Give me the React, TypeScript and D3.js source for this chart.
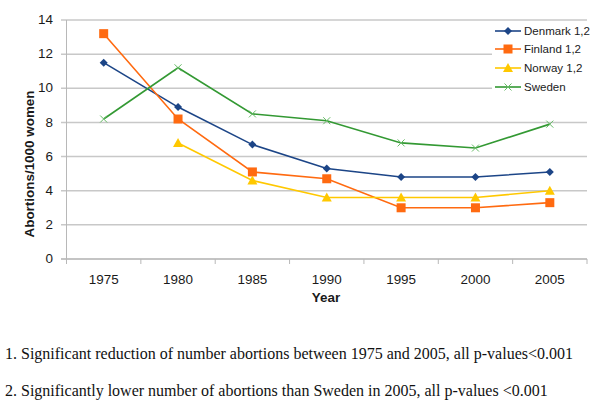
import React from "react";
import * as d3 from "d3";

const years = ["1975", "1980", "1985", "1990", "1995", "2000", "2005"];
const denmark = [11.5, 8.9, 6.7, 5.3, 4.8, 4.8, 5.1];
const finland = [13.2, 8.2, 5.1, 4.7, 3.0, 3.0, 3.3];
const norway: (number | null)[] = [null, 6.8, 4.6, 3.6, 3.6, 3.6, 4.0];
const sweden = [8.2, 11.2, 8.5, 8.1, 6.8, 6.5, 7.9];
const yTicks = [0, 2, 4, 6, 8, 10, 12, 14];
const seriesNames = ["Denmark 1,2", "Finland 1,2", "Norway 1,2", "Sweden"];
const footnotes = [
  "1. Significant reduction of number abortions between 1975 and 2005, all p-values<0.001",
  "2. Significantly lower number of abortions than Sweden in 2005, all p-values <0.001",
];

const colors = ["#1c4587", "#ff6a10", "#ffc800", "#339933"];
const markers = ["diamond", "square", "triangle", "x"];
const SANS = "Liberation Sans, Arial";

function Marker({ type, x, y, color }: { type: string; x: number; y: number; color: string }) {
  if (type === "diamond") {
    const s = 4;
    return <path d={`M${x},${y - s}L${x + s},${y}L${x},${y + s}L${x - s},${y}Z`} fill={color} />;
  }
  if (type === "square") {
    const s = 4.5;
    return <rect x={x - s} y={y - s} width={2 * s} height={2 * s} fill={color} />;
  }
  if (type === "triangle") {
    const s = 5;
    return <path d={`M${x},${y - s}L${x + s},${y + s * 0.8}L${x - s},${y + s * 0.8}Z`} fill={color} />;
  }
  const s = 3.5;
  return (
    <path
      d={`M${x - s},${y - s}L${x + s},${y + s}M${x - s},${y + s}L${x + s},${y - s}`}
      stroke="#66bb66"
      strokeWidth={1}
      fill="none"
    />
  );
}

function STxt({
  x, y, anchor = "start", size, sx = 1.12, bold = false, rotate = 0, children,
}: {
  x: number; y: number; anchor?: string; size: number; sx?: number; bold?: boolean; rotate?: number; children: React.ReactNode;
}) {
  return (
    <g transform={`translate(${x},${y}) rotate(${rotate}) scale(${sx},1)`}>
      <text
        dy="0.35em"
        textAnchor={anchor as any}
        fontFamily={SANS}
        fontSize={size}
        fontWeight={bold ? "bold" : "normal"}
        fill="#1a1a1a"
      >
        {children}
      </text>
    </g>
  );
}

export default function App() {
  const W = 600, H = 410;
  const left = 66.5, right = 587, top = 20, bottom = 259;
  const x = d3.scaleBand<string>().domain(years).range([left, right]);
  const y = d3.scaleLinear().domain([0, 14]).range([bottom, top]);
  const data = [denmark, finland, norway, sweden];
  const cx = (yr: string) => (x(yr) as number) + x.bandwidth() / 2;
  const line = d3
    .line<number | null>()
    .defined((d) => d !== null)
    .x((_, i) => cx(years[i]))
    .y((d) => y(d as number));
  const legendY = [31, 49, 68, 87];
  return (
    <svg width={W} height={H} style={{ position: "absolute", left: 0, top: 0, background: "#fff" }}>
      <rect width={W} height={H} fill="#fff" />
      {yTicks.map((t) => (
        <g key={t}>
          <line x1={61} x2={right} y1={y(t)} y2={y(t)} stroke={t === 0 ? "#b0b0b0" : "#c8c8c8"} strokeWidth={1.5} />
          <STxt x={53} y={y(t)} anchor="end" size={12}>
            {t}
          </STxt>
        </g>
      ))}
      <line x1={left} x2={left} y1={top} y2={bottom + 5} stroke="#b8b8b8" strokeWidth={1} />
      {years.map((yr) => (
        <g key={yr}>
          <line x1={(x(yr) as number) + x.bandwidth()} x2={(x(yr) as number) + x.bandwidth()} y1={bottom} y2={bottom + 5} stroke="#b8b8b8" />
          <STxt x={cx(yr)} y={280} anchor="middle" size={12}>
            {yr}
          </STxt>
        </g>
      ))}
      <STxt x={326} y={298} anchor="middle" size={12} bold>
        Year
      </STxt>
      <STxt x={30} y={164} anchor="middle" size={12} bold rotate={-90}>
        Abortions/1000 women
      </STxt>
      {/* legend background */}
      <rect x={492} y={23} width={100} height={74} fill="#fff" />
      {data.map((s, i) => (
        <g key={i}>
          <path d={line(s) || ""} fill="none" stroke={colors[i]} strokeWidth={1.6} />
          {s.map((v, j) =>
            v === null ? null : <Marker key={j} type={markers[i]} x={cx(years[j])} y={y(v)} color={colors[i]} />
          )}
        </g>
      ))}
      {seriesNames.map((n, i) => (
        <g key={n}>
          <line x1={495} x2={521} y1={legendY[i]} y2={legendY[i]} stroke={colors[i]} strokeWidth={1.6} />
          <Marker type={markers[i]} x={508} y={legendY[i]} color={colors[i]} />
          <STxt x={524} y={legendY[i]} size={10.5} sx={1.1}>
            {n}
          </STxt>
        </g>
      ))}
      {footnotes.map((f, i) => (
        <text key={i} x={5} y={353 + i * 37} dy="0.35em" fontFamily="Liberation Serif, Times New Roman" fontSize={16} fill="#111">
          {f}
        </text>
      ))}
    </svg>
  );
}
